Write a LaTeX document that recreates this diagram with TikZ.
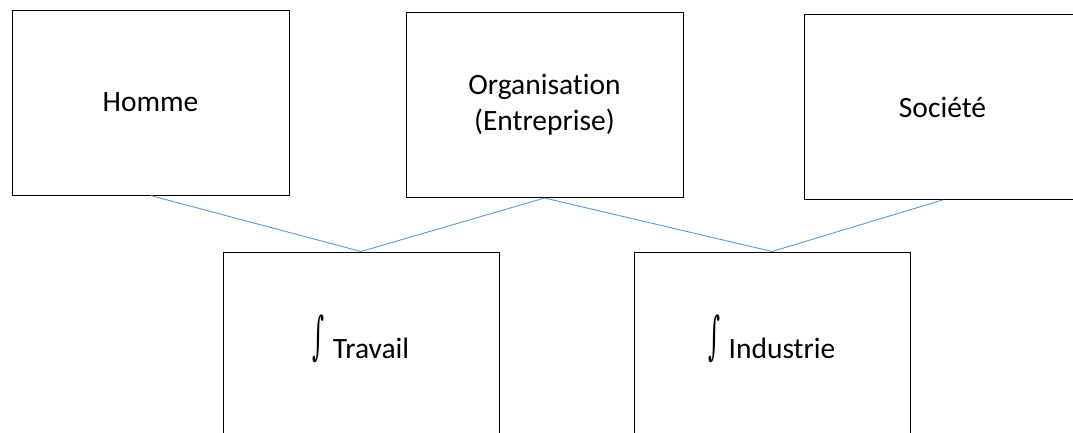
\documentclass[tikz,border=0pt]{standalone}
\usepackage{fontspec}
\setmainfont{Carlito}[Ligatures=NoCommon]
\newfontfamily\signefont{DejaVu Serif}
\definecolor{lienbleu}{HTML}{5B9BD5}
\newcommand{\grandint}{\raisebox{-5pt}[30pt][3pt]{\resizebox*{12pt}{48pt}{\raisebox{\depth}{\signefont ∫}}}\hspace{8pt}}
\begin{document}
\begin{tikzpicture}[x=1pt,y=-1pt,
    bloc/.style={draw=black,line width=1pt,minimum width=277pt,minimum height=185pt,
        inner sep=0pt,align=center,font=\fontsize{29.5}{36}\selectfont},
    lien/.style={draw=lienbleu,line width=0.9pt}]
                \useasboundingbox (0,0) rectangle (1073,432);
                \clip (0,0) rectangle (1073,432);
                \node[bloc] (homme) at (150.5,102.5) {Homme};
                \node[bloc] (organisation) at (544.5,105) {Organisation\\(Entreprise)};
                \node[bloc] (societe) at (942.5,107) {Société};
                \node[bloc,minimum width=276pt] (travail) at (361,344.5) {\grandint Travail};
                \node[bloc,minimum width=276pt] (industrie) at (772,344.5) {\grandint Industrie};
                \foreach \haut/\bas in {homme/travail,organisation/travail,organisation/industrie,societe/industrie}{
                    \draw[lien] (\haut.south) -- (\bas.north);
                }
            \end{tikzpicture}
\end{document}
